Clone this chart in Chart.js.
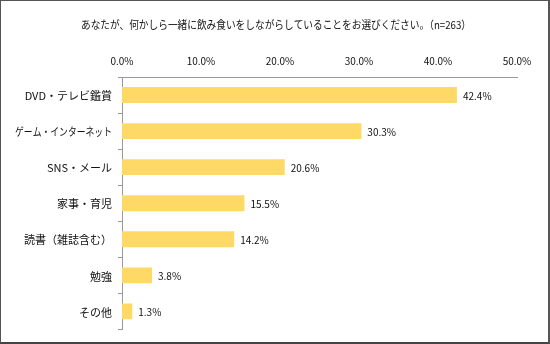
<!DOCTYPE html>
<html>
<head>
<meta charset="utf-8">
<script src="https://cdn.jsdelivr.net/npm/chart.js@4.4.0/dist/chart.umd.min.js"></script>
<style>
    html, body { margin: 0; padding: 0; background: #fff; }
    #frame {
        width: 550px; height: 344px; box-sizing: border-box;
        border: 1px solid #555; border-bottom: 2px solid #444; border-right: 2px solid #555;
        position: relative;
    }
    #chartBox { position: absolute; left: 0; top: 0; width: 547px; height: 341px; }
</style>
</head>
<body>
<div id="frame">
    <div id="chartBox"><canvas id="drinkChart"></canvas></div>
</div>
<script>
var chartTitle = "あなたが、何かしら一緒に飲み食いをしながらしていることをお選びください。（n=263）";
var categories = ["DVD・テレビ鑑賞", "ゲーム・インターネット", "SNS・メール", "家事・育児", "読書（雑誌含む）", "勉強", "その他"];
var percentValues = [42.4, 30.3, 20.6, 15.5, 14.2, 3.8, 1.3];
var tickValues = [0, 10, 20, 30, 40, 50];

var jpFont = "'Noto Sans CJK JP', 'DejaVu Sans', sans-serif";

// title, category names and value labels drawn by hand so long text can be squeezed a bit
var textLayer = {
    id: "textLayer",
    afterDatasetsDraw: function (chart) {
        var ctx = chart.ctx;
        var area = chart.chartArea;
        var yScale = chart.scales.y;
        var meta = chart.getDatasetMeta(0);
        ctx.save();
        ctx.fillStyle = "#111";
        ctx.textBaseline = "middle";

        ctx.font = "11px " + jpFont;
        ctx.textAlign = "center";
        ctx.fillText(chartTitle, 275, 24, 390);

        ctx.textAlign = "right";
        categories.forEach(function (name, i) {
            ctx.fillText(name, area.left - 10, yScale.getPixelForValue(i) + 1, 97);
        });

        ctx.font = "10px " + jpFont;
        ctx.textAlign = "left";
        meta.data.forEach(function (bar, i) {
            ctx.fillText(percentValues[i].toFixed(1) + "%", bar.x + 6, bar.y + 1);
        });
        ctx.restore();
    }
};

new Chart(document.getElementById("drinkChart"), {
    type: "bar",
    data: {
        labels: categories,
        datasets: [{
            data: percentValues,
            backgroundColor: "#FFD966",
            borderWidth: 0,
            categoryPercentage: 1.0,
            barPercentage: 0.44
        }]
    },
    options: {
        indexAxis: "y",
        responsive: true,
        maintainAspectRatio: false,
        animation: false,
        layout: { padding: { left: 0, right: 31, top: 32, bottom: 9 } },
        plugins: {
            legend: { display: false },
            tooltip: { enabled: false },
            title: { display: false }
        },
        scales: {
            x: {
                position: "top",
                min: 0,
                max: 50,
                afterBuildTicks: function (scale) {
                    scale.ticks = tickValues.map(function (v) { return { value: v }; });
                },
                afterFit: function (scale) { scale.height = 44; },
                grid: { display: false, drawTicks: false },
                border: { display: true, color: "#999", width: 1 },
                ticks: {
                    padding: 10,
                    color: "#111",
                    font: { family: jpFont, size: 10 },
                    callback: function (v) { return v.toFixed(1) + "%"; }
                }
            },
            y: {
                afterFit: function (scale) { scale.width = 121; },
                grid: { offset: true, drawOnChartArea: false, drawTicks: true, tickLength: 4, color: "#999" },
                border: { display: true, color: "#999", width: 1 },
                ticks: {
                    padding: 6,
                    color: "rgba(0,0,0,0)",
                    font: { family: jpFont, size: 11 }
                }
            }
        }
    },
    plugins: [textLayer]
});
</script>
</body>
</html>
